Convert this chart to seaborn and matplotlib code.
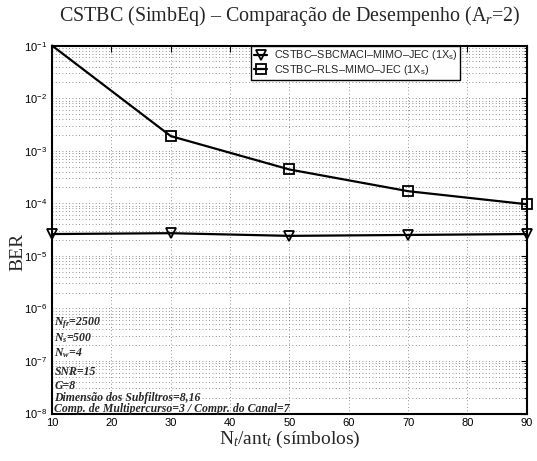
import numpy as np
import pandas as pd
import seaborn as sns
import matplotlib.pyplot as plt
from matplotlib.lines import Line2D
from matplotlib.ticker import FixedLocator, NullFormatter

sns.set_style('white')
plt.rcParams['font.family'] = ['Liberation Sans', 'DejaVu Sans']
plt.rcParams['mathtext.fontset'] = 'custom'
plt.rcParams['mathtext.rm'] = 'Liberation Serif'
plt.rcParams['mathtext.it'] = 'Liberation Serif:italic'
plt.rcParams['mathtext.bfit'] = 'Liberation Serif:italic:bold'
plt.rcParams['mathtext.sf'] = 'Liberation Sans'

# data
x_vals = [10, 30, 50, 70, 90]
ber_sbcmaci = [2.6e-5, 2.7e-5, 2.4e-5, 2.5e-5, 2.6e-5]
ber_rls = [1.0e-1, 1.9e-3, 4.4e-4, 1.7e-4, 9.6e-5]
y_decades = [-8, -7, -6, -5, -4, -3, -2, -1]
series_names = ['CSTBC\u2013SBCMACI\u2013MIMO\u2013JEC (1X$_\\mathsf{s}$)',
                'CSTBC\u2013RLS\u2013MIMO\u2013JEC (1X$_\\mathsf{s}$)']
param_lines = ['$\\mathbfit{N}_{\\mathbfit{fr}}$=2500',
               '$\\mathbfit{N}_{\\mathbfit{s}}$=500',
               '$\\mathbfit{N}_{\\mathbfit{w}}$=4',
               'SNR=15', 'G=8',
               'Dimensão dos Subfiltros=8,16',
               'Comp. de Multipercurso=3 / Compr. do Canal=7']

df = pd.DataFrame({'x': x_vals * 2,
                   'ber': ber_sbcmaci + ber_rls,
                   'serie': [series_names[0]] * 5 + [series_names[1]] * 5})

fig = plt.figure(figsize=(5.37, 4.61), dpi=100)
ax = fig.add_axes([0.097, 0.103, 0.884, 0.798])

sns.lineplot(data=df, x='x', y='ber', hue='serie', style='serie',
             palette=['black', 'black'], markers=['v', 's'], dashes=False,
             markersize=7, markeredgewidth=1.3, markerfacecolor='none',
             markeredgecolor='black', linewidth=1.6, ax=ax, legend=False)
# first RLS marker sits above the top of the axes
ax.lines[1].set_markevery([1, 2, 3, 4])
for ln in ax.lines:
    ln.set_clip_on(False)
    ln.set_zorder(5)

ax.set_yscale('log')
ax.set_xlim(10, 90)
ax.set_ylim(1e-8, 1e-1)
ax.set_xticks(range(10, 91, 10))
major = [10.0 ** d for d in y_decades]
minor = [k * 10.0 ** d for d in y_decades[:-1] for k in range(2, 10)]
ax.yaxis.set_major_locator(FixedLocator(major))
ax.yaxis.set_minor_locator(FixedLocator(minor))
ax.yaxis.set_minor_formatter(NullFormatter())
ax.tick_params(axis='both', which='both', direction='in', top=True, right=True,
               labelsize=8, colors='black')
ax.tick_params(which='major', length=4, width=0.8)
ax.tick_params(which='minor', length=2, width=0.6)
ax.grid(True, which='major', linestyle=(0, (1, 3)), color='#707070', linewidth=0.6)
ax.grid(True, which='minor', axis='y', linestyle=(0, (1, 3)), color='#707070',
        linewidth=0.6)
for s in ax.spines.values():
    s.set_linewidth(1.5)
    s.set_color('black')

handles = [Line2D([], [], color='black', marker=m, markersize=6.5, markerfacecolor='none',
                  markeredgewidth=1.3, linewidth=1.6) for m in ['v', 's']]
leg = ax.legend(handles, series_names, loc='upper left', bbox_to_anchor=(0.42, 1.0),
                fontsize=7.8, frameon=True, fancybox=False, handlelength=1.2,
                borderpad=0.25, labelspacing=0.05, handletextpad=0.6, borderaxespad=0)
leg.get_frame().set_edgecolor('black')
leg.get_frame().set_linewidth(1.0)
leg.get_frame().set_alpha(1)

serif = ['Liberation Serif', 'DejaVu Serif']
ax.set_title('CSTBC (SimbEq) \u2013 Comparação de Desempenho (A$_r$=2)',
             fontsize=14.4, family=serif, pad=18)
ax.set_xlabel('N$_t$/ant$_t$ (símbolos)', fontsize=14, family=serif, labelpad=0)
ax.set_ylabel('BER', fontsize=14, family=serif)
ax.yaxis.set_label_coords(-0.055, 0.44)

y_txt = [0.247, 0.205, 0.163, 0.113, 0.075, 0.042, 0.012]
for t, yy in zip(param_lines, y_txt):
    ax.text(0.005, yy, t, transform=ax.transAxes, fontsize=8.5, family=serif,
            fontweight='bold', fontstyle='italic', va='center', ha='left')

fig.savefig('out.png', dpi=100)
